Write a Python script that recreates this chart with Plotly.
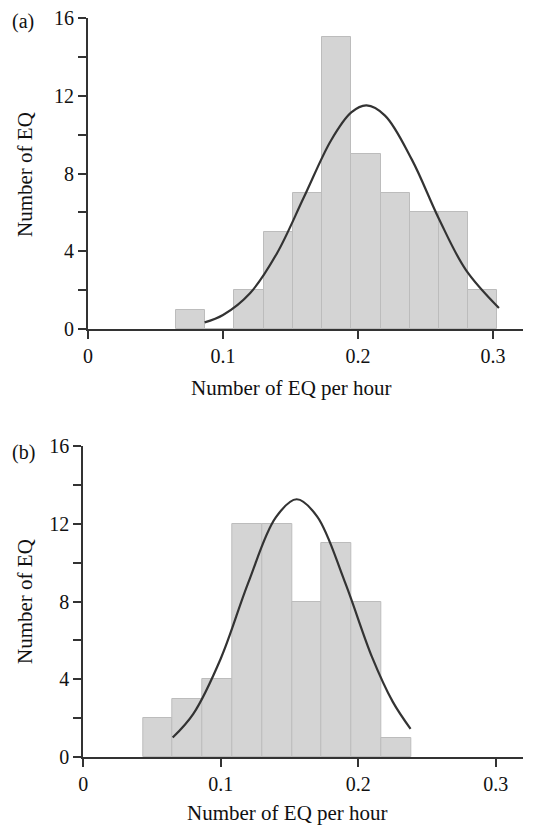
import plotly.graph_objects as go

# ---- data ----
a_edges = [0.065, 0.0867, 0.1083, 0.1300, 0.1517, 0.1733, 0.1950, 0.2167, 0.2383, 0.2600, 0.2817, 0.3033]
a_counts = [1, 0, 2, 5, 7, 15, 9, 7, 6, 6, 2]
a_curve_x = [0.0864, 0.10, 0.12, 0.14, 0.16, 0.18, 0.195, 0.2063, 0.22, 0.24, 0.26, 0.28, 0.3044]
a_curve_y = [0.34, 0.72, 1.84, 3.90, 6.79, 9.70, 11.14, 11.5, 10.98, 8.70, 5.66, 3.03, 1.08]

b_edges = [0.0433, 0.065, 0.0867, 0.1083, 0.1300, 0.1517, 0.1733, 0.1950, 0.2167, 0.2383]
b_counts = [2, 3, 4, 12, 12, 8, 11, 8, 1]
b_curve_x = [0.065, 0.08, 0.10, 0.12, 0.14, 0.1552, 0.17, 0.19, 0.21, 0.225, 0.238]
b_curve_y = [1.0, 2.22, 5.07, 8.97, 12.33, 13.26, 12.38, 9.05, 5.14, 2.85, 1.45]

x_ticks = [0, 0.1, 0.2, 0.3]
x_tick_text = ["0", "0.1", "0.2", "0.3"]
y_ticks = [0, 4, 8, 12, 16]
panel_labels = ["(a)", "(b)"]
x_title = "Number of EQ per hour"
y_title = "Number of EQ"

FONT = "Liberation Serif, Times New Roman, serif"
W, H = 552, 825
AX = "#333333"
TXT = "#111111"

fig = go.Figure()


def add_hist(edges, counts, cx, cy, xa, ya):
    centers = [(edges[i] + edges[i + 1]) / 2 for i in range(len(counts))]
    widths = [edges[i + 1] - edges[i] for i in range(len(counts))]
    fig.add_trace(go.Bar(x=centers, y=counts, width=widths,
                         marker=dict(color="#d4d4d4", line=dict(color="#bcbcbc", width=1)),
                         xaxis=xa, yaxis=ya, showlegend=False, hoverinfo="skip"))
    fig.add_trace(go.Scatter(x=cx, y=cy, mode="lines",
                             line=dict(color="#333333", width=2.2, shape="spline"),
                             xaxis=xa, yaxis=ya, showlegend=False, hoverinfo="skip"))


add_hist(a_edges, a_counts, a_curve_x, a_curve_y, "x", "y")
add_hist(b_edges, b_counts, b_curve_x, b_curve_y, "x2", "y2")

# pixel geometry -> domains
a_l, a_r, a_t, a_b = 88, 523, 18, 329
b_l, b_r, b_t, b_b = 83.3, 523, 446, 757

common_x = dict(tickvals=x_ticks, ticktext=x_tick_text, showgrid=False, zeroline=False,
                automargin=False,
                showline=True, linecolor=AX, linewidth=2, ticks="outside", ticklen=8, tickwidth=2,
                tickcolor=AX, tickfont=dict(family=FONT, size=20, color=TXT))
common_y = dict(tickvals=y_ticks, range=[0, 16], showgrid=False, zeroline=False,
                automargin=False,
                showline=True, linecolor=AX, linewidth=2, ticks="outside", ticklen=8, tickwidth=2,
                tickcolor=AX, tickfont=dict(family=FONT, size=20, color=TXT),
                minor=dict(tickvals=[2, 6, 10, 14], ticks="outside", ticklen=8, tickwidth=2,
                           tickcolor=AX))

fig.update_layout(
    width=W, height=H, margin=dict(l=0, r=0, t=0, b=0, autoexpand=False),
    paper_bgcolor="white", plot_bgcolor="rgba(0,0,0,0)", bargap=0,
    xaxis=dict(domain=[a_l / W, a_r / W], range=[0, (a_r - a_l) / 1350], anchor="y", **common_x),
    yaxis=dict(domain=[1 - a_b / H, 1 - a_t / H], anchor="x", **common_y),
    xaxis2=dict(domain=[b_l / W, b_r / W], range=[0, (b_r - b_l) / 1375], anchor="y2", **common_x),
    yaxis2=dict(domain=[1 - b_b / H, 1 - b_t / H], anchor="x2", **common_y),
)

ann = []
for lab, (lx, ly) in zip(panel_labels, [(23, 22), (23, 452)]):
    ann.append(dict(text=lab, x=lx / W, y=1 - ly / H, xref="paper", yref="paper",
                    showarrow=False, xanchor="center", yanchor="middle",
                    font=dict(family=FONT, size=20, color=TXT)))
for tx, ty in [(291, 388), (287, 813)]:
    ann.append(dict(text=x_title, x=tx / W, y=1 - ty / H, xref="paper", yref="paper",
                    showarrow=False, xanchor="center", yanchor="middle",
                    font=dict(family=FONT, size=21, color=TXT)))
for tx, ty in [(25, 175), (25, 602)]:
    ann.append(dict(text=y_title, x=tx / W, y=1 - ty / H, xref="paper", yref="paper",
                    showarrow=False, xanchor="center", yanchor="middle", textangle=-90,
                    font=dict(family=FONT, size=21, color=TXT)))
fig.update_layout(annotations=ann)

fig.write_html("out.html", config={"displayModeBar": False},
               post_script="document.body.style.margin='0';document.body.style.overflow='hidden';")
